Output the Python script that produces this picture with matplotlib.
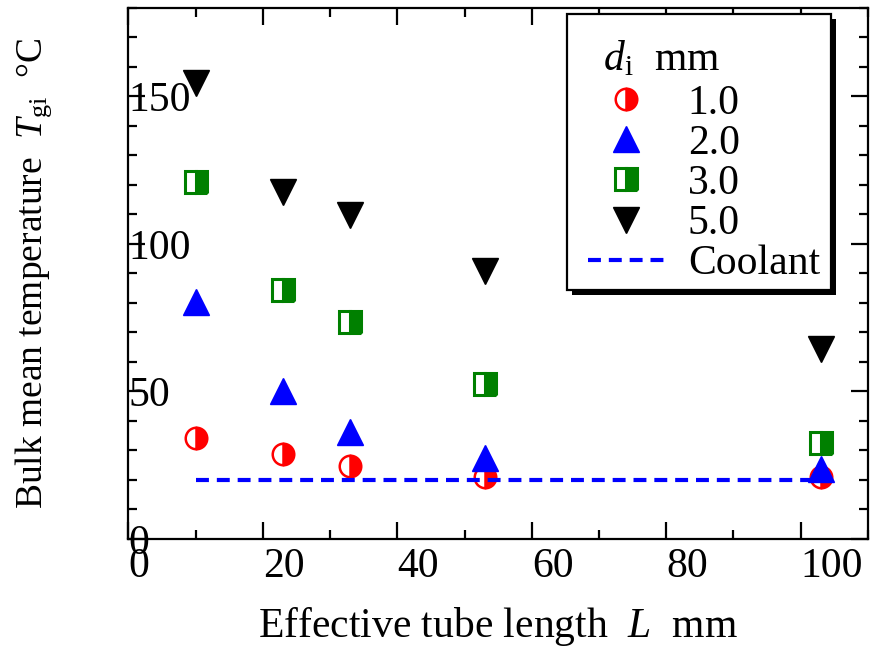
import numpy as np
import matplotlib
matplotlib.use("Agg")
import matplotlib.pyplot as plt
from matplotlib.patches import Rectangle
from matplotlib.ticker import MultipleLocator

plt.rcParams['font.family'] = ['Liberation Serif', 'DejaVu Serif']
plt.rcParams['mathtext.fontset'] = 'custom'
plt.rcParams['mathtext.rm'] = 'Liberation Serif'
plt.rcParams['mathtext.it'] = 'Liberation Serif:italic'

# data
length = [10, 23, 33, 53, 103]
t_d10 = [34.3, 28.7, 24.7, 21.1, 21.0]
t_d20 = [80.5, 50.3, 36.3, 27.5, 23.6]
t_d30 = [121.1, 84.4, 73.6, 52.6, 32.7]
t_d50 = [154.5, 117.7, 109.8, 90.8, 64.3]
coolant_x = [10, 103]
coolant_t = [20, 20]

fs = 30

fig = plt.figure(figsize=(8.77, 6.49), dpi=100)
ax = fig.add_axes([0.1464, 0.1695, 0.8433, 0.8182])

ax.plot(length, t_d10, ls='none', marker='o', ms=15.5, mec='red', mfc='red',
        mfcalt='white', fillstyle='right', mew=1.8, label='1.0')
ax.plot(length, t_d20, ls='none', marker='^', ms=18.5, color='blue', mec='blue',
        label='2.0')
ax.plot(length, t_d30, ls='none', marker='s', ms=15.5, mec='green', mfc='green',
        mfcalt='white', fillstyle='right', mew=2.2, label='3.0')
ax.plot(length, t_d50, ls='none', marker='v', ms=18.5, color='black', label='5.0')
ax.plot(coolant_x, coolant_t, color='blue', lw=3, dashes=(3.1, 1.9), label='Coolant')

ax.set_xlim(0, 110)
ax.set_ylim(0, 180)
ax.set_xticks([0, 20, 40, 60, 80, 100])
ax.xaxis.set_minor_locator(MultipleLocator(10))
ax.yaxis.set_major_locator(MultipleLocator(50))
ax.yaxis.set_minor_locator(MultipleLocator(10))

for s in ax.spines.values():
    s.set_linewidth(1.6)
ax.tick_params(which='both', direction='in', top=True, right=True, width=1.6,
               labelsize=fs)
ax.tick_params(which='major', length=12)
ax.tick_params(which='minor', length=6.5)
ax.tick_params(axis='y', pad=0)
ax.tick_params(axis='x', pad=6)
for lab in ax.get_yticklabels():
    lab.set_horizontalalignment('left')
for lab in ax.get_xticklabels():
    lab.set_horizontalalignment('left')

ax.set_xlabel(r'Effective tube length  $L$  mm', fontsize=fs)
ax.xaxis.set_label_coords(0.5, -0.125)
ax.set_ylabel('Bulk mean temperature  $T_{\\rm gi}$  °C', fontsize=27)
ax.yaxis.set_label_coords(-0.10, 0.5)

leg = ax.legend(loc='upper left', bbox_to_anchor=(0.593, 0.979), borderaxespad=0,
                fontsize=fs, title=r' $\,d_{\rm i}$  mm', title_fontsize=fs,
                alignment='left', frameon=False, handlelength=1.85,
                handletextpad=0.55, labelspacing=0.04, borderpad=0.5)
leg._legend_box.sep += 2
leg.set_zorder(6)

# frame with a hard black shadow, fitted around the legend contents
fig.canvas.draw()
bb = leg.get_window_extent()
fx0, fx1 = bb.x0, bb.x1 - 10
fy0, fy1 = bb.y0 + 14, bb.y1 + 5
ax.add_patch(Rectangle((fx0 + 5, fy0 - 5), fx1 - fx0, fy1 - fy0,
                       transform=None, facecolor='black', edgecolor='none',
                       zorder=5, clip_on=False))
ax.add_patch(Rectangle((fx0, fy0), fx1 - fx0, fy1 - fy0,
                       transform=None, facecolor='white', edgecolor='black',
                       linewidth=1.6, zorder=5.5, clip_on=False))

fig.savefig('out.png', dpi=100)
